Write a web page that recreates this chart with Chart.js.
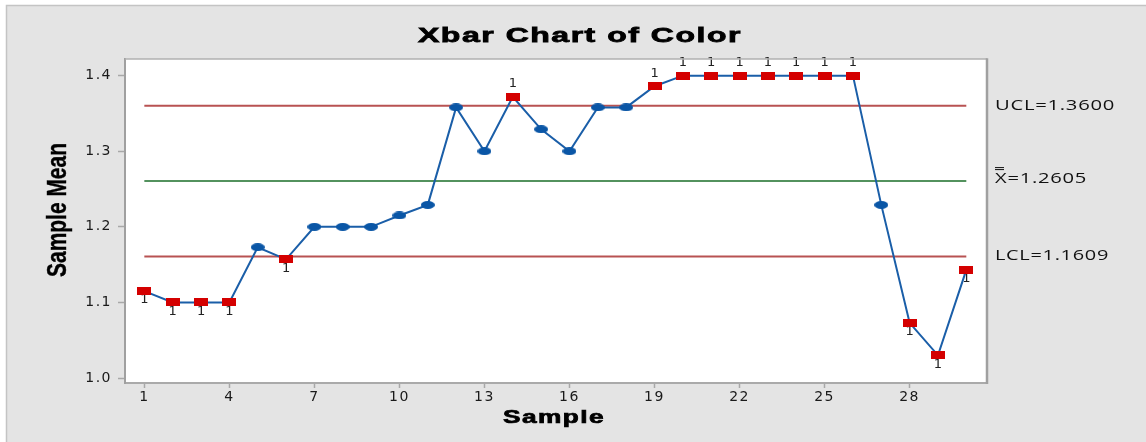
<!DOCTYPE html>
<html>
<head>
    <title>Xbar Chart of Color</title>
    <script src="https://cdn.jsdelivr.net/npm/chart.js"></script>
    <style>
        body { margin: 0; background: #ffffff; }
    </style>
</head>
<body>
    <canvas id="myChart" width="1146" height="442"></canvas>

    <script>
        // data
        var sampleNo = [1, 2, 3, 4, 5, 6, 7, 8, 9, 10, 11, 12, 13, 14, 15, 16, 17, 18, 19, 20, 21, 22, 23, 24, 25, 26, 27, 28, 29, 30];
        var sampleMean = [1.115, 1.100, 1.100, 1.100, 1.173, 1.157, 1.200, 1.200, 1.200, 1.215, 1.229, 1.358, 1.300, 1.372, 1.329, 1.300, 1.358, 1.358, 1.386, 1.400, 1.400, 1.400, 1.400, 1.400, 1.400, 1.400, 1.229, 1.073, 1.030, 1.143];
        var ucl = 1.3600;
        var centerLine = 1.2605;
        var lcl = 1.1609;
        var xTicks = [1, 4, 7, 10, 13, 16, 19, 22, 25, 28];
        var yTicks = [1.0, 1.1, 1.2, 1.3, 1.4];

        function isOut(v) { return v > ucl || v < lcl; }

        function makeMark(w, h, color, shape) {
            var c = document.createElement('canvas');
            c.width = w; c.height = h;
            var g = c.getContext('2d');
            g.fillStyle = color;
            if (shape === 'ellipse') {
                g.beginPath();
                g.ellipse(w / 2, h / 2, w / 2, h / 2, 0, 0, Math.PI * 2);
                g.fill();
            } else {
                g.fillRect(0, 0, w, h);
            }
            return c;
        }
        var dotMark = makeMark(14, 8, '#0a56a6', 'ellipse');
        var rectMark = makeMark(14, 8, '#d40000', 'rect');

        // draws text stretched to a given width (centred, or from the left when left is true)
        function wideText(ctx, text, x, y, font, width, spacing, sy, rotate, left, color, heavy) {
            ctx.save();
            ctx.font = font;
            ctx.letterSpacing = spacing + 'px';
            var w = ctx.measureText(text).width;
            ctx.translate(x, y);
            if (rotate) {
                ctx.scale(sy, 1);
                ctx.rotate(-Math.PI / 2);
            }
            ctx.scale(width / w, 1);
            ctx.textAlign = 'left';
            ctx.textBaseline = 'alphabetic';
            ctx.fillStyle = color || '#000000';
            ctx.fillText(text, left ? 0 : -w / 2, 0);
            if (heavy) {
                ctx.strokeStyle = color || '#000000';
                ctx.lineWidth = heavy;
                ctx.strokeText(text, left ? 0 : -w / 2, 0);
            }
            ctx.restore();
        }

        function line(data, color, width) {
            return {
                data: [{x: sampleNo[0], y: data}, {x: sampleNo[sampleNo.length - 1], y: data}],
                borderColor: color,
                borderWidth: width,
                pointRadius: 0,
                order: 2
            };
        }

        var framePlugin = {
            id: 'frame',
            beforeDraw: function (chart) {
                var ctx = chart.ctx, a = chart.chartArea;
                ctx.save();
                ctx.fillStyle = '#ffffff';
                ctx.fillRect(0, 0, chart.width, chart.height);
                ctx.fillStyle = '#e4e4e4';
                ctx.fillRect(6, 5, chart.width - 6, chart.height - 5);
                ctx.strokeStyle = '#c4c4c4';
                ctx.lineWidth = 1.5;
                ctx.beginPath();
                ctx.moveTo(6.5, chart.height);
                ctx.lineTo(6.5, 5.5);
                ctx.lineTo(chart.width, 5.5);
                ctx.stroke();
                ctx.fillStyle = '#ffffff';
                ctx.fillRect(a.left, a.top, a.right - a.left, a.bottom - a.top);
                ctx.restore();
                ctx.letterSpacing = '1.5px';
            },
            beforeDatasetsDraw: function (chart) {
                var ctx = chart.ctx;
                var meta = chart.getDatasetMeta(0);
                ctx.save();
                ctx.letterSpacing = '0px';
                ctx.font = '13px "DejaVu Sans"';
                ctx.fillStyle = '#222222';
                ctx.textAlign = 'center';
                ctx.textBaseline = 'middle';
                sampleMean.forEach(function (v, i) {
                    if (!isOut(v)) return;
                    var p = meta.data[i];
                    ctx.fillText('1', p.x, v > ucl ? p.y - 13 : p.y + 9);
                });
                ctx.restore();
            },
            afterDraw: function (chart) {
                var ctx = chart.ctx, a = chart.chartArea;
                var y = chart.scales.y;
                ctx.save();
                ctx.letterSpacing = '0px';
                ctx.strokeStyle = '#b0b0b0';
                ctx.lineWidth = 1.5;
                ctx.beginPath();
                ctx.moveTo(a.left, a.top);
                ctx.lineTo(a.right, a.top);
                ctx.stroke();
                ctx.strokeStyle = '#a0a0a0';
                ctx.lineWidth = 2.5;
                ctx.beginPath();
                ctx.moveTo(a.right, a.top - 0.7);
                ctx.lineTo(a.right, a.bottom + 1);
                ctx.stroke();

                // double bar over the X of the centre line label
                var by = y.getPixelForValue(centerLine) + 2 - 13;
                ctx.strokeStyle = '#111111';
                ctx.lineWidth = 1;
                ctx.beginPath();
                ctx.moveTo(995, by - 2.5); ctx.lineTo(1004, by - 2.5);
                ctx.moveTo(995, by - 0.5); ctx.lineTo(1004, by - 0.5);
                ctx.stroke();
                ctx.restore();

                var lf = '14px "Open Sans"';
                wideText(ctx, 'UCL=' + ucl.toFixed(4), 995, y.getPixelForValue(ucl) + 4.5, lf, 120, 0.5, 1, false, true, '#111111');
                wideText(ctx, 'X=' + centerLine.toFixed(4), 995, y.getPixelForValue(centerLine) + 2, lf, 92, 0.5, 1, false, true, '#111111');
                wideText(ctx, 'LCL=' + lcl.toFixed(4), 995, y.getPixelForValue(lcl) + 3.5, lf, 114, 0.5, 1, false, true, '#111111');

                wideText(ctx, 'Xbar Chart of Color', 580, 41.5, 'bold 21px "Liberation Sans"', 324, 1, 1, false, false, '#000000', 0.8);
                wideText(ctx, 'Sample', 554, 423, 'bold 18px "Liberation Sans"', 102, 1, 1, false, false, '#000000', 0.7);
                wideText(ctx, 'Sample Mean', 66, 210, 'bold 21px "Liberation Sans"', 134, 0, 1.35, true, false, '#000000', 0.3);
            }
        };

        var ctx = document.getElementById('myChart').getContext('2d');
        var myChart = new Chart(ctx, {
            type: 'line',
            data: {
                datasets: [
                    {
                        data: sampleNo.map(function (s, i) { return {x: s, y: sampleMean[i]}; }),
                        borderColor: '#1a5ea8',
                        borderWidth: 2,
                        pointStyle: function (c) { return c.raw && isOut(c.raw.y) ? rectMark : dotMark; },
                        pointRadius: 5,
                        order: 1
                    },
                    line(ucl, '#b85252', 2),
                    line(centerLine, '#1a6e28', 1.5),
                    line(lcl, '#b85252', 2)
                ]
            },
            options: {
                responsive: false,
                animation: false,
                layout: { padding: { left: 0, right: 159, top: 59, bottom: 0 } },
                plugins: {
                    legend: { display: false },
                    tooltip: { enabled: false },
                    title: { display: false }
                },
                scales: {
                    x: {
                        type: 'linear',
                        min: 0.318,
                        max: 30.73,
                        afterBuildTicks: function (s) { s.ticks = xTicks.map(function (v) { return {value: v}; }); },
                        afterFit: function (s) { s.height = 59; },
                        ticks: {
                            font: { family: 'DejaVu Sans', size: 14 },
                            color: '#1a1a1a',
                            padding: 1,
                            autoSkip: false,
                            maxRotation: 0,
                            callback: function (v) { return String(v); }
                        },
                        grid: { display: true, drawOnChartArea: false, drawTicks: true, tickLength: 5, tickColor: '#a8a8a8', tickWidth: 1.5 },
                        border: { color: '#aaaaaa', width: 2 }
                    },
                    y: {
                        min: 0.9934,
                        max: 1.422,
                        afterBuildTicks: function (s) { s.ticks = yTicks.map(function (v) { return {value: v}; }); },
                        afterFit: function (s) { s.width = 125; },
                        ticks: {
                            font: { family: 'DejaVu Sans', size: 14 },
                            color: '#1a1a1a',
                            padding: 6,
                            callback: function (v) { return v.toFixed(1); }
                        },
                        grid: { display: true, drawOnChartArea: false, drawTicks: true, tickLength: 7, tickColor: '#a8a8a8', tickWidth: 1.5 },
                        border: { color: '#a0a0a0', width: 2 }
                    }
                }
            },
            plugins: [framePlugin]
        });
    </script>
</body>
</html>
